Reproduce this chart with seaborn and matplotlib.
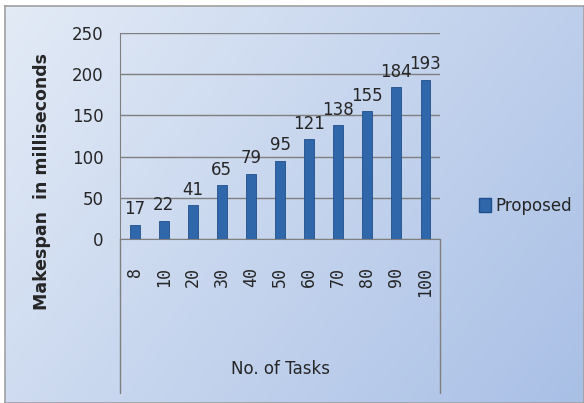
import numpy as np
import pandas as pd
import seaborn as sns
import matplotlib
matplotlib.use("Agg")
import matplotlib.pyplot as plt
from matplotlib.lines import Line2D
from matplotlib.patches import Rectangle

tasks = ["8", "10", "20", "30", "40", "50", "60", "70", "80", "90", "100"]
makespan = [17, 22, 41, 65, 79, 95, 121, 138, 155, 184, 193]
series_name = "Proposed"
y_ticks = [0, 50, 100, 150, 200, 250]

df = pd.DataFrame({"Tasks": tasks, "Makespan": makespan})

sns.set_style("white")
plt.rcParams["font.family"] = ["DejaVu Sans"]

fig = plt.figure(figsize=(5.84, 4.03), dpi=100)
fig.patch.set_facecolor("white")

# gradient background
bg = fig.add_axes([0.009, 0.0, 0.991, 0.985], zorder=-10)
h, w = 200, 300
yy, xx = np.mgrid[0:h, 0:w]
t = (xx / w * 0.65 + yy / h * 0.35)
c0 = np.array([0.89, 0.92, 0.965])
c1 = np.array([0.66, 0.75, 0.90])
img = c0[None, None, :] * (1 - t[..., None]) + c1[None, None, :] * t[..., None]
bg.imshow(img, aspect="auto", extent=[0, 1, 0, 1])
bg.set_xticks([]); bg.set_yticks([])
for s in bg.spines.values():
    s.set_color("#a0a0a0"); s.set_linewidth(1.2)

ax = fig.add_axes([0.2055, 0.407, 0.548, 0.511])
ax.set_facecolor("none")
sns.barplot(data=df, x="Tasks", y="Makespan", ax=ax, color="#2f67aa",
            width=0.34, saturation=1, edgecolor="#1f4f8a", linewidth=0.6,
            zorder=3)
ax.set_ylim(0, 250)
ax.set_yticks(y_ticks)
ax.set_yticklabels([str(v) for v in y_ticks], fontsize=12)
ax.set_xlabel("")
ax.set_ylabel("Makespan  in milliseconds", fontsize=12.5, fontweight="bold")
ax.yaxis.set_label_coords(-0.215, 0.28)
ax.grid(axis="y", color="#7f7f7f", linewidth=1.0, zorder=0)
ax.tick_params(axis="y", length=5, color="#7f7f7f", width=1, pad=7)
ax.tick_params(axis="x", length=0, pad=20)
plt.setp(ax.get_xticklabels(), rotation=90, fontsize=12, va="top",
         family=["DejaVu Sans Mono"])
for side in ["top", "right"]:
    ax.spines[side].set_visible(False)
ax.spines["left"].set_color("#7f7f7f")
ax.spines["bottom"].set_color("#7f7f7f")

for p, v in zip(ax.patches, makespan):
    ax.text(p.get_x() + p.get_width() / 2, v + 8, str(v), ha="center", va="bottom",
            fontsize=12, clip_on=False)

# category box below plot
x_left, x_right = 0.2055, 0.2055 + 0.548
fig.add_artist(Line2D([x_left, x_left], [0.407, 0.025], color="#7f7f7f", lw=1))
fig.add_artist(Line2D([x_right, x_right], [0.407, 0.025], color="#7f7f7f", lw=1))
fig.text((x_left + x_right) / 2, 0.085, "No. of Tasks", ha="center", va="center", fontsize=12)

# legend
handle = Rectangle((0, 0), 1, 1, facecolor="#2f67aa", edgecolor="#1f4f8a")
fig.legend([handle], [series_name], loc="center left", bbox_to_anchor=(0.795, 0.49),
           frameon=False, fontsize=12, handlelength=0.7, handleheight=0.9,
           handletextpad=0.25)

fig.savefig("out.png", dpi=100)
